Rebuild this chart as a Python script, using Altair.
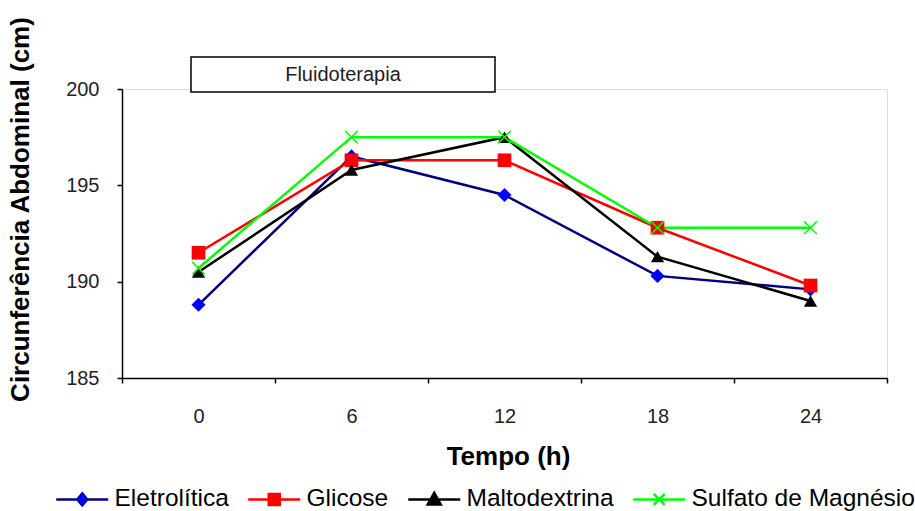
import altair as alt
import pandas as pd

FONT = "Liberation Sans"

# Time points (h) and abdominal circumference means (cm) per fluid group
tempo = [0, 6, 12, 18, 24]
series = ["Eletrolítica", "Glicose", "Maltodextrina", "Sulfato de Magnésio"]
eletrolitica = [188.8, 196.5, 194.5, 190.3, 189.6]
glicose = [191.5, 196.3, 196.3, 192.8, 189.8]
maltodextrina = [190.5, 195.8, 197.5, 191.3, 189.0]
sulfato = [190.7, 197.5, 197.5, 192.8, 192.8]

y_ticks = [185, 190, 195, 200]
anotacao = ["Fluidoterapia"]

line_colors = ["#000080", "#FF0000", "#000000", "#00FF00"]
marker_fill = ["#0000FF", "#FF0000", "#000000", "transparent"]

# category-style axis: ticks sit between the time points
step = tempo[1] - tempo[0]
tick_edges = [t - step / 2 for t in tempo] + [tempo[-1] + step / 2]

rows = []
for name, vals in zip(series, [eletrolitica, glicose, maltodextrina, sulfato]):
    for t, v in zip(tempo, vals):
        rows.append({"serie": name, "tempo": t, "circ": v})
df = pd.DataFrame(rows)

W, H = 765, 289
x_scale = alt.Scale(domain=[tick_edges[0], tick_edges[-1]], nice=False, zero=False)
y_scale = alt.Scale(domain=[y_ticks[0], y_ticks[-1]], nice=False, zero=False)

x_enc = alt.X(
    "tempo:Q",
    scale=x_scale,
    axis=alt.Axis(
        values=tick_edges,
        labelExpr=f"datum.value >= {tick_edges[-1]} ? '' : toString(datum.value + {step / 2})",
        labelOffset=W / (len(tempo)) / 2,
        labelOverlap=False,
        labelFlush=False,
        labelAlign="center",
        labelFontSize=20,
        labelFont=FONT,
        labelColor="#222222",
        labelPadding=23,
        labelBaseline="top",
        tickSize=5,
        tickColor="black",
        tickWidth=1.5,
        domainColor="black",
        domainWidth=1.5,
        grid=False,
        title="Tempo (h)",
        titleFont=FONT,
        titleFontSize=26,
        titleFontWeight="bold",
        titleColor="black",
        titleX=386,
        titleY=78,
        titleBaseline="middle",
        titleAlign="center",
    ),
)
y_enc = alt.Y(
    "circ:Q",
    scale=y_scale,
    axis=alt.Axis(
        values=y_ticks,
        labelFontSize=20,
        labelFont=FONT,
        labelColor="#222222",
        labelPadding=18,
        tickSize=5,
        tickColor="black",
        tickWidth=1.5,
        domainColor="black",
        domainWidth=1.5,
        grid=False,
        title="Circunferência Abdominal (cm)",
        titleFont=FONT,
        titleFontSize=26,
        titleFontWeight="bold",
        titleColor="black",
        titleX=-102,
        titleY=120,
        titleAngle=270,
        titleBaseline="middle",
        titleAlign="center",
    ),
)

base = alt.Chart(df)

lines = base.mark_line(strokeWidth=2.5).encode(
    x=x_enc,
    y=y_enc,
    color=alt.Color("serie:N", scale=alt.Scale(domain=series, range=line_colors), legend=None),
)

filled_points = base.transform_filter(
    alt.FieldOneOfPredicate(field="serie", oneOf=series[:3])
).mark_point(filled=True, opacity=1).encode(
    x="tempo:Q",
    y="circ:Q",
    fill=alt.Fill("serie:N", scale=alt.Scale(domain=series[:3], range=marker_fill[:3]), legend=None),
    shape=alt.Shape("serie:N", scale=alt.Scale(domain=series[:3], range=["diamond", "square", "triangle-up"]), legend=None),
    size=alt.Size("serie:N", scale=alt.Scale(domain=series[:3], range=[200, 175, 210]), legend=None),
)

x_points = base.transform_filter(
    alt.FieldEqualPredicate(field="serie", equal=series[3])
).mark_point(
    shape="M-1,-1L1,1M-1,1L1,-1", size=160, stroke="#00FF00", strokeWidth=1.5, fill="transparent", opacity=1
).encode(x="tempo:Q", y="circ:Q")

# legend symbols: a short line segment with the marker in its middle
legend_paths = [
    "M-1,0L9.4,0M4.2,-1.2L5.2,0L4.2,1.2L3.2,0Z",
    "M-1,0L9.4,0M3.1,-1.1L5.3,-1.1L5.3,1.1L3.1,1.1Z",
    "M-1,0L9.4,0M4.2,-1.3L5.5,1L2.9,1Z",
    "M-1,0L9.4,0M3.1,-1.1L5.3,1.1M3.1,1.1L5.3,-1.1",
]


def legend_props(stroke_w, label_opacity):
    return alt.Legend(
        orient="none",
        direction="horizontal",
        columns=4,
        legendX=-73,
        legendY=398,
        title=None,
        labelFont=FONT,
        labelFontSize=24.5,
        labelColor="black",
        labelOpacity=label_opacity,
        labelLimit=400,
        symbolSize=100,
        symbolStrokeWidth=stroke_w,
        symbolOpacity=1,
        labelOffset=41,
        columnPadding=12,
        padding=0,
    )


# outline pass of the legend: line segment and marker outline in the line colour
legend_stroke = base.transform_filter("false").mark_point(filled=False, opacity=1, strokeWidth=2.5).encode(
    x="tempo:Q",
    y="circ:Q",
    stroke=alt.Stroke("serie:N", scale=alt.Scale(domain=series, range=line_colors), legend=legend_props(2.5, 1)),
    shape=alt.Shape("serie:N", scale=alt.Scale(domain=series, range=legend_paths), legend=legend_props(2.5, 1)),
)

# fill pass of the legend: marker bodies in the marker colour
legend_fill = base.transform_filter("false").mark_point(filled=True, opacity=1).encode(
    x="tempo:Q",
    y="circ:Q",
    fill=alt.Fill("serie:N", scale=alt.Scale(domain=series, range=marker_fill), legend=legend_props(0, 0)),
    shape=alt.Shape("serie:N", scale=alt.Scale(domain=series, range=legend_paths), legend=legend_props(0, 0)),
)

box_df = pd.DataFrame({"rotulo": anotacao})
box = alt.Chart(box_df).mark_rect(fill="white", stroke="black", strokeWidth=1.5).encode(
    x=alt.value(69), x2=alt.value(373), y=alt.value(-32), y2=alt.value(3)
)
box_text = alt.Chart(box_df).mark_text(
    font=FONT, fontSize=20, color="#222222", align="center", baseline="middle"
).encode(x=alt.value(221), y=alt.value(-14), text="rotulo:N")

chart = alt.layer(
    box, box_text, lines, filled_points, x_points, legend_stroke, legend_fill
).resolve_scale(
    fill="independent", shape="independent", size="independent", stroke="independent"
).properties(
    width=W,
    height=H,
    autosize=alt.AutoSizeParams(type="none"),
    padding={"left": 122, "top": 89, "right": 28, "bottom": 133},
).configure_view(strokeWidth=0).configure(background="white")

chart.save("out.html", embed_options={"renderer": "svg", "actions": False})
